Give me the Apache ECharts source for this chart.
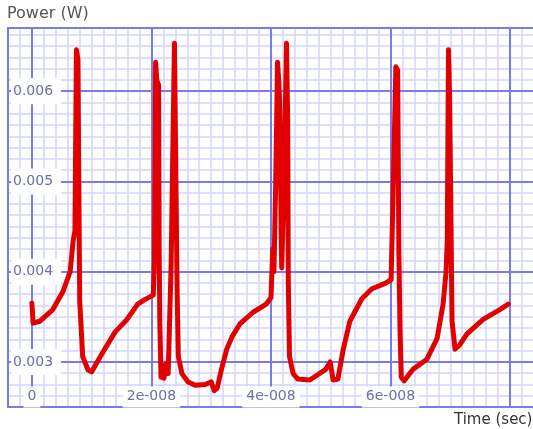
<!DOCTYPE html>
<html>
<head>
<meta charset="utf-8">
<script src="https://cdn.jsdelivr.net/npm/echarts@6/dist/echarts.min.js"></script>
<style>
html,body{margin:0;padding:0;background:#fff;}
#chart{width:533px;height:429px;}
</style>
</head>
<body>
<div id="chart"></div>
<script>
// Time (seconds)
const timeValues = [0, 0.02e-8, 0.13e-8, 0.35e-8, 0.52e-8, 0.64e-8, 0.69e-8, 0.72e-8, 0.745e-8, 0.77e-8, 0.79e-8, 0.80e-8, 0.85e-8, 0.94e-8, 1.00e-8,
  1.19e-8, 1.39e-8, 1.59e-8, 1.77e-8, 1.89e-8, 2.03e-8, 2.05e-8, 2.07e-8, 2.09e-8, 2.12e-8, 2.13e-8, 2.14e-8, 2.16e-8, 2.21e-8, 2.24e-8,
  2.28e-8, 2.33e-8, 2.35e-8, 2.385e-8, 2.41e-8, 2.43e-8, 2.45e-8, 2.51e-8, 2.61e-8, 2.73e-8, 2.90e-8, 3.00e-8, 3.05e-8, 3.10e-8, 3.18e-8,
  3.26e-8, 3.35e-8, 3.48e-8, 3.70e-8, 3.92e-8, 4.00e-8, 4.03e-8, 4.05e-8, 4.08e-8, 4.11e-8, 4.13e-8, 4.15e-8, 4.17e-8, 4.18e-8, 4.22e-8,
  4.26e-8, 4.28e-8, 4.29e-8, 4.31e-8, 4.37e-8, 4.45e-8, 4.65e-8, 4.79e-8, 4.92e-8, 4.99e-8, 5.04e-8, 5.12e-8, 5.21e-8, 5.32e-8, 5.52e-8,
  5.69e-8, 5.91e-8, 6.01e-8, 6.03e-8, 6.09e-8, 6.12e-8, 6.14e-8, 6.16e-8, 6.18e-8, 6.23e-8, 6.38e-8, 6.61e-8, 6.78e-8, 6.88e-8, 6.93e-8,
  6.95e-8, 6.97e-8, 6.99e-8, 7.01e-8, 7.03e-8, 7.08e-8, 7.16e-8, 7.28e-8, 7.55e-8, 7.83e-8, 7.97e-8];
// Power (W)
const powerValues = [0.00365, 0.00343, 0.00345, 0.00358, 0.00378, 0.00400, 0.00434, 0.00445, 0.00646, 0.00635, 0.00456, 0.00367, 0.00306, 0.00291, 0.00289,
  0.00311, 0.00333, 0.00347, 0.00364, 0.00369, 0.00374, 0.00409, 0.00632, 0.00612, 0.00607, 0.00423, 0.00345, 0.00283, 0.00282, 0.00298,
  0.00287, 0.00408, 0.00501, 0.00653, 0.00501, 0.00378, 0.00306, 0.00287, 0.00278, 0.00274, 0.00275, 0.00278, 0.00268, 0.00271, 0.00294,
  0.00314, 0.00328, 0.00342, 0.00355, 0.00364, 0.00371, 0.00425, 0.00400, 0.00501, 0.00632, 0.00612, 0.00579, 0.00445, 0.00404, 0.00501,
  0.00653, 0.00568, 0.00389, 0.00306, 0.00287, 0.00281, 0.00280, 0.00286, 0.00292, 0.00300, 0.00280, 0.00281, 0.00314, 0.00345, 0.00370,
  0.00381, 0.00387, 0.00391, 0.00447, 0.00627, 0.00623, 0.00423, 0.00333, 0.00283, 0.00279, 0.00292, 0.00303, 0.00326, 0.00364, 0.00400,
  0.00434, 0.00646, 0.00590, 0.00467, 0.00345, 0.00314, 0.00319, 0.00331, 0.00347, 0.00358, 0.00364];

const xTickValues = [0, 2e-8, 4e-8, 6e-8];
const xTickLabels = ['0', '2e-008', '4e-008', '6e-008'];
const yTickValues = [0.003, 0.004, 0.005, 0.006];
const yTickLabels = ['0.003', '0.004', '0.005', '0.006'];

const xAxisName = 'Time (sec)';
const yAxisName = 'Power (W)';

function lookup(values, labels, v, tol) {
  for (let i = 0; i < values.length; i++) {
    if (Math.abs(values[i] - v) < tol) return '{b|' + labels[i] + '}';
  }
  return '';
}

const data = timeValues.map((t, i) => [t, powerValues[i]]);

const chart = echarts.init(document.getElementById('chart'), null, {renderer: 'canvas'});
const labelColor = '#6b6ea8';
const majorColor = '#7a7aee';
const minorColor = '#d4d4fa';

const X_MIN = -0.4e-8, X_MAX = 8.468e-8;
const Y_MIN = 0.0025, Y_MAX = 0.0067;

const labelBase = {fontFamily: 'DejaVu Sans', fontSize: 14, color: labelColor};

chart.setOption({
  animation: false,
  backgroundColor: '#ffffff',
  title: [
    {text: yAxisName, left: 7, top: 6, padding: 0,
     textStyle: {fontFamily: 'DejaVu Sans', fontSize: 16, fontWeight: 'normal', color: '#555'}},
    {text: xAxisName, left: 454, top: 413, padding: 0,
     textStyle: {fontFamily: 'DejaVu Sans', fontSize: 15, fontWeight: 'normal', color: '#333'}}
  ],
  grid: {
    left: 8, top: 28, width: 530, height: 379,
    outerBoundsMode: 'none', containLabel: false,
    show: true, borderColor: '#8c8cd8', borderWidth: 2, backgroundColor: '#ffffff'
  },
  xAxis: [{
    type: 'value', z: 2,
    min: X_MIN, max: X_MAX,
    splitNumber: 4, minInterval: 2e-8, maxInterval: 2e-8,
    axisLine: {show: false},
    axisTick: {show: false},
    axisLabel: {
      inside: true, margin: 2, ...labelBase,
      showMinLabel: true, showMaxLabel: true, hideOverlap: false,
      formatter: v => lookup(xTickValues, xTickLabels, v, 1e-12),
      rich: {b: {...labelBase, backgroundColor: '#ffffff', padding: [3, 4, 4, 4], lineHeight: 16}}
    },
    splitLine: {show: true, lineStyle: {color: majorColor, width: 2}}
  }, {
    // minor grid
    type: 'value', z: 1,
    min: X_MIN, max: X_MAX, interval: 0.2e-8,
    axisLine: {show: false}, axisTick: {show: false}, axisLabel: {show: false},
    splitLine: {show: true, lineStyle: {color: minorColor, width: 1.5}}
  }],
  yAxis: [{
    type: 'value', z: 2,
    min: Y_MIN, max: Y_MAX,
    splitNumber: 4, minInterval: 0.001, maxInterval: 0.001,
    axisLine: {show: false},
    axisTick: {show: false},
    axisLabel: {
      inside: true, margin: 3, ...labelBase,
      showMinLabel: true, showMaxLabel: true, hideOverlap: false,
      formatter: v => lookup(yTickValues, yTickLabels, v, 1e-9),
      rich: {b: {...labelBase, backgroundColor: '#ffffff', padding: [6, 8, 6, 2]}}
    },
    splitLine: {show: true, lineStyle: {color: majorColor, width: 2}}
  }, {
    type: 'value', z: 1,
    min: Y_MIN, max: Y_MAX, interval: 0.000125,
    axisLine: {show: false}, axisTick: {show: false}, axisLabel: {show: false},
    splitLine: {show: true, lineStyle: {color: minorColor, width: 1.5}}
  }],
  series: [{
    type: 'line',
    xAxisIndex: 0, yAxisIndex: 0,
    data: data,
    showSymbol: false,
    symbol: 'none',
    lineStyle: {color: '#e00000', width: 5, join: 'round', cap: 'round'},
    z: 5
  }]
});
</script>
</body>
</html>
